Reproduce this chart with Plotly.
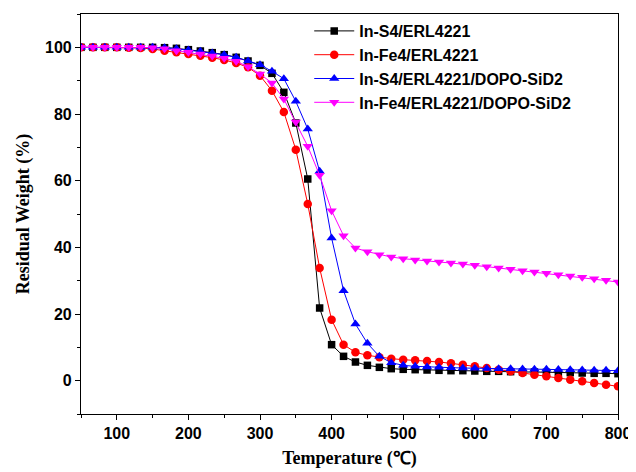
import plotly.graph_objects as go

temps = [50, 66.7, 83.3, 100, 116.7, 133.3, 150, 166.7, 183.3, 200, 216.7, 233.3, 250,
         266.7, 283.3, 300, 316.7, 333.3, 350, 366.7, 383.3, 400, 416.7, 433.3, 450,
         466.7, 483.3, 500, 516.7, 533.3, 550, 566.7, 583.3, 600, 616.7, 633.3, 650,
         666.7, 683.3, 700, 716.7, 733.3, 750, 766.7, 783.3, 800]

s4_erl = [100, 100, 100, 100, 100, 100, 100, 99.9, 99.7, 99.3, 98.9, 98.4, 97.8, 97.0,
          95.9, 94.6, 92.2, 86.5, 77.3, 60.5, 21.8, 10.8, 7.3, 5.6, 4.6, 4.0, 3.6, 3.4,
          3.3, 3.2, 3.1, 3.0, 3.0, 2.9, 2.8, 2.8, 2.7, 2.6, 2.6, 2.5, 2.4, 2.4, 2.3, 2.2,
          2.2, 2.1]

fe4_erl = [100, 100, 100, 100, 99.9, 99.8, 99.5, 99.0, 98.5, 98.0, 97.5, 96.9, 96.2,
           95.3, 94.0, 91.5, 87.0, 80.6, 69.3, 53.0, 33.8, 18.3, 10.8, 8.5, 7.6, 7.0,
           6.6, 6.3, 6.1, 5.9, 5.6, 5.2, 4.8, 4.3, 3.8, 3.3, 2.8, 2.3, 1.8, 1.3, 0.8,
           0.3, -0.2, -0.7, -1.2, -1.7]

s4_erl_dopo = [100, 100, 100, 100, 100, 100, 100, 99.9, 99.6, 99.2, 98.8, 98.3, 97.8,
               97.0, 95.9, 94.8, 92.8, 90.6, 83.8, 75.5, 62.8, 42.8, 27.0, 17.0, 11.2,
               7.3, 5.4, 4.6, 4.3, 4.1, 4.0, 3.9, 3.8, 3.7, 3.65, 3.6, 3.55, 3.5, 3.45,
               3.4, 3.35, 3.3, 3.2, 3.15, 3.1, 3.0]

fe4_erl_dopo = [100, 100, 100, 100, 100, 100, 99.9, 99.6, 99.0, 98.5, 98.0, 97.4, 96.7,
                95.8, 94.2, 92.0, 89.3, 84.5, 77.6, 70.3, 61.6, 51.0, 43.5, 39.8, 38.7,
                37.8, 37.1, 36.6, 36.2, 35.9, 35.6, 35.3, 35.0, 34.6, 34.2, 33.8, 33.4,
                33.0, 32.6, 32.2, 31.8, 31.4, 31.0, 30.6, 30.1, 29.6]

names = ["In-S4/ERL4221", "In-Fe4/ERL4221", "In-S4/ERL4221/DOPO-SiD2",
         "In-Fe4/ERL4221/DOPO-SiD2"]
series = [s4_erl, fe4_erl, s4_erl_dopo, fe4_erl_dopo]
colors = ["#000000", "#FF0000", "#0000FF", "#FF00FF"]
symbols = ["square", "circle", "triangle-up", "triangle-down"]
sizes = [7.5, 8.5, 9, 9]

x_ticks = [100, 200, 300, 400, 500, 600, 700, 800]
y_ticks = [0, 20, 40, 60, 80, 100]

fig = go.Figure()
for n, s, c, sym, sz in zip(names, series, colors, symbols, sizes):
    fig.add_trace(go.Scatter(
        x=temps, y=s, name=n, mode="lines+markers",
        line=dict(color=c, width=1),
        marker=dict(symbol=sym, size=sz, color=c, line=dict(width=0)),
    ))

tick_font = dict(family="Liberation Sans, Arial", size=16, color="black", weight="bold")
title_font = dict(family="Liberation Serif, Times New Roman", size=18, color="black",
                  weight="bold")

# The page adds an 8px body margin, so the figure is sized to fit inside the window.
fig.update_layout(
    width=628, height=464,
    margin=dict(l=73, r=18, t=6, b=58),
    paper_bgcolor="white", plot_bgcolor="white",
    showlegend=True,
    legend=dict(x=0.425, y=1.0, xanchor="left", yanchor="top",
                bgcolor="rgba(0,0,0,0)", borderwidth=0,
                font=dict(family="Liberation Sans, Arial", size=16, color="black",
                          weight="bold"),
                tracegroupgap=0, itemwidth=40),
    xaxis=dict(
        range=[50, 800], tickvals=x_ticks, ticks="outside", ticklen=5, tickwidth=1,
        tickcolor="black", showline=True, linecolor="black", linewidth=1.2,
        mirror=True, showgrid=False, zeroline=False, tickfont=tick_font,
        automargin=False,
        minor=dict(dtick=50, tick0=50, ticks="outside", ticklen=3, tickcolor="black"),
        title=dict(text="Temperature (℃)", font=title_font, standoff=10),
    ),
    yaxis=dict(
        range=[-10, 110], tickvals=y_ticks, ticks="outside", ticklen=5, tickwidth=1,
        tickcolor="black", showline=True, linecolor="black", linewidth=1.2,
        mirror=True, showgrid=False, zeroline=False, tickfont=tick_font,
        automargin=False,
        minor=dict(dtick=10, tick0=-10, ticks="outside", ticklen=3, tickcolor="black"),
        title=dict(text="Residual Weight (%)", font=title_font, standoff=10),
    ),
)

fig.write_html("out.html")
